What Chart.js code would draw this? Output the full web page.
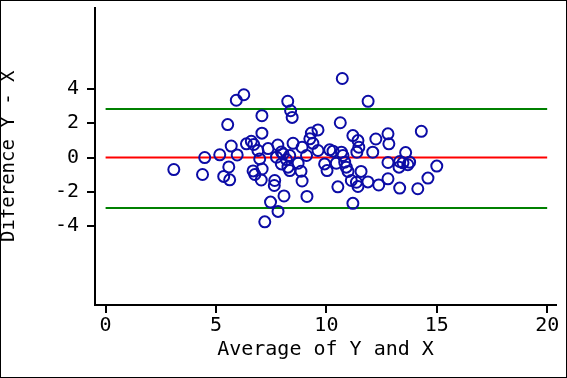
<!DOCTYPE html>
<html>
<head>
<meta charset="utf-8">
<script src="https://cdn.jsdelivr.net/npm/chart.js@4.4.0/dist/chart.umd.min.js"></script>
<style>
html, body { margin: 0; padding: 0; background: #fff; }
#wrap { width: 567px; height: 378px; }
</style>
</head>
<body>
<div id="wrap"><canvas id="baChart" width="567" height="378"></canvas></div>
<script>
// average of the two measurements (x) and their difference (y)
var avgX = [3.09,4.39,4.49,5.17,5.35,5.53,5.62,5.58,5.69,5.92,
  5.96,6.26,6.38,6.60,6.71,6.90,6.98,7.08,7.08,6.68,
  6.76,7.09,7.05,7.21,7.36,7.47,7.66,7.64,7.74,7.80,
  7.81,7.96,8.04,7.96,8.08,8.19,8.26,8.34,8.25,8.38,
  8.45,8.34,8.49,8.72,8.85,8.90,8.90,9.10,9.12,9.25,
  9.32,9.39,9.62,9.62,9.92,10.03,10.15,10.30,10.45,10.52,
  10.63,10.72,10.68,10.75,10.83,10.90,10.98,11.13,11.20,11.20,
  11.36,11.43,11.43,11.47,11.38,11.57,11.89,11.88,12.10,12.24,
  12.37,12.79,12.83,12.79,12.79,13.32,13.29,13.32,13.47,13.59,
  13.69,13.77,14.14,14.30,14.60,15.00];
var diffY = [-0.70,-0.99,0.00,0.16,-1.10,1.92,-1.30,-0.55,0.67,3.34,
  0.15,3.66,0.80,0.95,0.76,0.41,-0.08,2.44,1.42,-0.78,
  -0.99,-0.67,-1.31,-3.75,0.52,-2.60,-1.34,-1.63,0.02,0.73,
  -3.14,0.32,0.21,-0.37,-2.24,-0.12,-0.56,-0.76,3.28,2.73,
  2.34,0.12,0.83,-0.33,-0.80,-1.37,0.60,0.12,-2.27,1.09,
  1.43,0.83,1.61,0.41,-0.37,-0.76,0.45,0.37,-0.33,-1.71,
  2.03,4.61,0.31,0.12,-0.27,-0.56,-0.81,-1.34,1.28,-2.67,
  -1.44,-1.69,0.99,0.60,0.31,-0.81,3.28,-1.42,0.31,1.08,
  -1.60,1.38,0.80,-0.29,-1.24,-0.23,-0.56,-1.78,-0.31,0.29,
  -0.42,-0.27,-1.82,1.53,-1.20,-0.50];

var meanDiff = 0;
var upperLimit = 2.83;
var lowerLimit = -2.95;
var lineX = [0, 20];
var xTicks = [0, 5, 10, 15, 20];
var yTicks = [-4, -2, 0, 2, 4];

var font = { family: "'DejaVu Sans Mono', monospace", size: 20 };

function hline(v){
  return lineX.map(function(x){ return { x: x, y: v }; });
}

var framePlugin = {
  id: 'frame',
  afterDraw: function(chart){
    var ctx = chart.ctx;
    ctx.save();
    ctx.strokeStyle = '#000';
    ctx.lineWidth = 1;
    ctx.strokeRect(0.5, 0.5, chart.width - 1, chart.height - 1);
    ctx.restore();
  }
};

var baChart = new Chart(document.getElementById('baChart'), {
  type: 'scatter',
  data: {
    datasets: [
      {
        label: 'points',
        data: avgX.map(function(x, i){ return { x: x, y: diffY[i] }; }),
        pointStyle: 'circle',
        pointRadius: 5.5,
        pointBorderWidth: 2,
        borderColor: '#0c0ca6',
        backgroundColor: 'rgba(0,0,0,0)',
        order: 0
      },
      { type: 'line', data: hline(meanDiff), borderColor: '#ff0000', borderWidth: 2, pointRadius: 0, fill: false, order: 1 },
      { type: 'line', data: hline(upperLimit), borderColor: '#008000', borderWidth: 2, pointRadius: 0, fill: false, order: 1 },
      { type: 'line', data: hline(lowerLimit), borderColor: '#008000', borderWidth: 2, pointRadius: 0, fill: false, order: 1 }
    ]
  },
  options: {
    responsive: false,
    animation: false,
    devicePixelRatio: 1,
    layout: { padding: { top: 7, right: 11, bottom: 0, left: 0 } },
    plugins: { legend: { display: false }, tooltip: { enabled: false } },
    scales: {
      x: {
        type: 'linear',
        min: -0.48,
        max: 20.4,
        afterBuildTicks: function(s){ s.ticks = xTicks.map(function(v){ return { value: v }; }); },
        afterFit: function(s){ s.height = 73; s.paddingLeft = 0; s.paddingRight = 0; },
        ticks: { font: font, color: '#000', padding: 1, maxRotation: 0, autoSkip: false },
        grid: { drawOnChartArea: false, drawTicks: true, tickLength: 8, color: '#000', lineWidth: 2 },
        border: { display: true, color: '#000', width: 2 },
        title: { display: true, text: 'Average of Y and X', font: font, color: '#000', padding: { top: 0, bottom: 16 } }
      },
      y: {
        type: 'linear',
        min: -8.6,
        max: 8.75,
        afterBuildTicks: function(s){ s.ticks = yTicks.map(function(v){ return { value: v }; }); },
        afterFit: function(s){ s.width = 95; s.paddingTop = 0; s.paddingBottom = 0; },
        ticks: { font: font, color: '#000', padding: 8, autoSkip: false },
        grid: { drawOnChartArea: false, drawTicks: true, tickLength: 8, color: '#000', lineWidth: 2 },
        border: { display: true, color: '#000', width: 2 },
        title: { display: true, text: 'Diference Y - X', font: { family: "'DejaVu Sans Mono', monospace", size: 19 }, color: '#000', padding: { top: -2, bottom: 0 } }
      }
    }
  },
  plugins: [framePlugin]
});
</script>
</body>
</html>
